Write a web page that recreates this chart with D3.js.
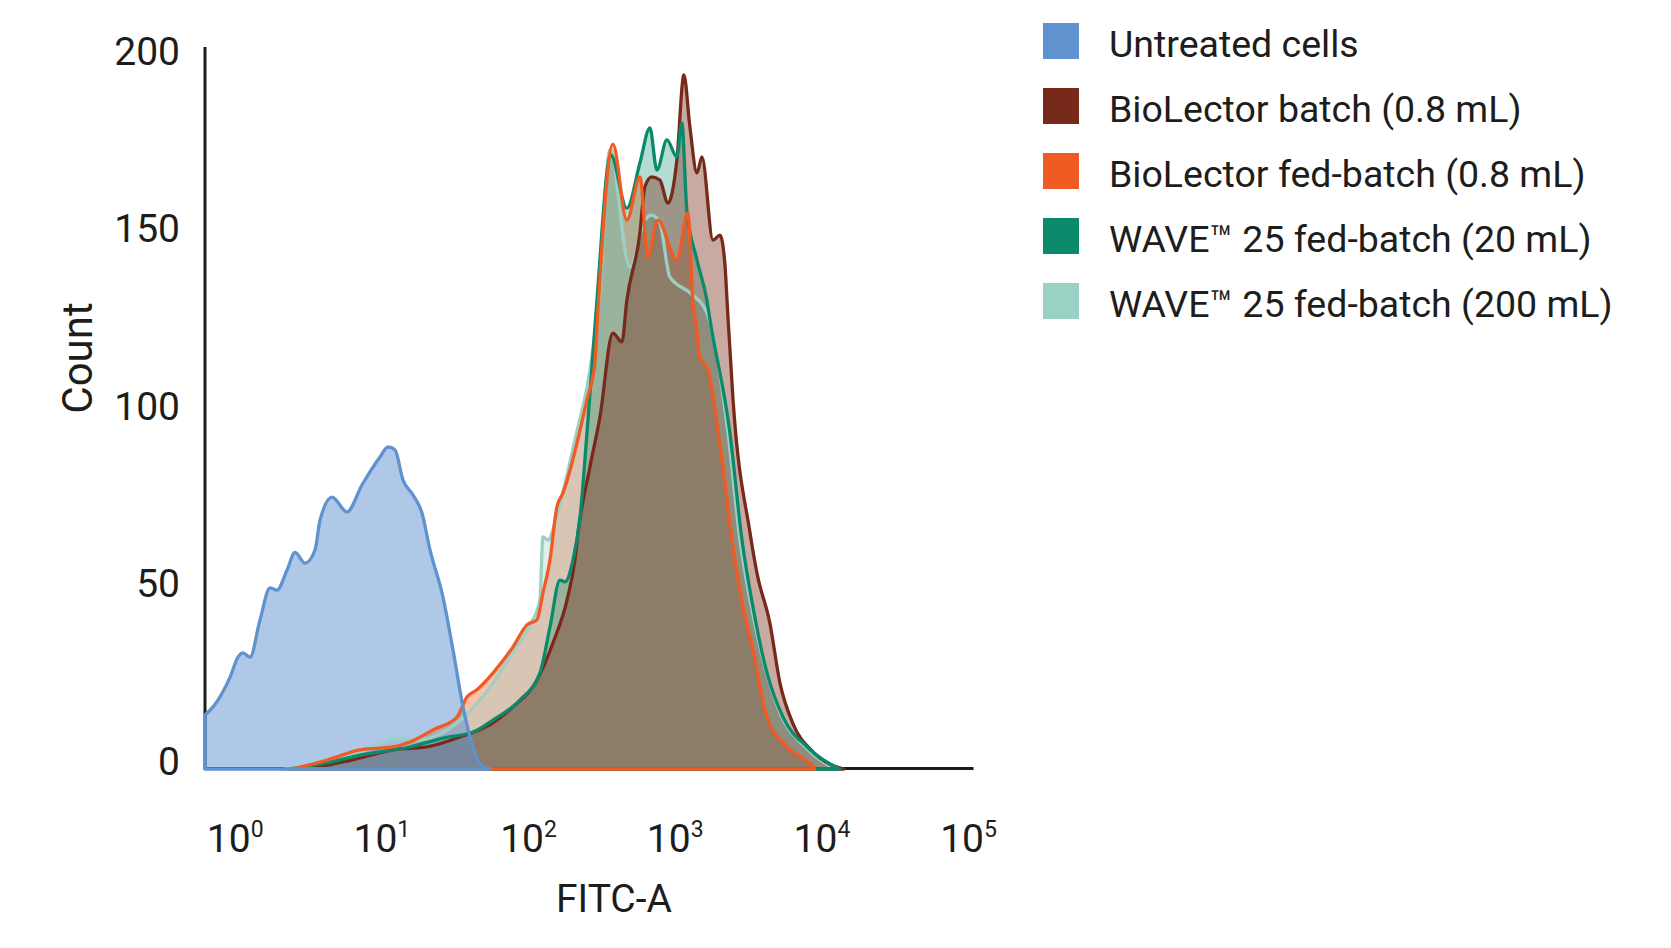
<!DOCTYPE html>
<html>
<head>
<meta charset="utf-8">
<script src="https://cdn.jsdelivr.net/npm/d3@7"></script>
<style>
  body { margin: 0; background: #fff; }
  text { font-family: Roboto, "Liberation Sans", sans-serif; fill: #1d1d1b; }
</style>
</head>
<body>
<div id="chart"></div>
<script>
// each histogram: [log10(FITC-A), count]
const untreated = [
  [-0.206, 15.2], [-0.151, 17.5], [-0.035, 25.9], [0.019, 31.5], [0.053, 32.7], [0.101, 31.5],
  [0.169, 42], [0.237, 51], [0.285, 50.4], [0.353, 56], [0.408, 61], [0.476, 58], [0.544, 61.7],
  [0.578, 70], [0.66, 76.6], [0.762, 72.4], [0.864, 80], [0.987, 87.9], [1.042, 90.7], [1.089, 89.9],
  [1.144, 81.4], [1.212, 77.2], [1.273, 72.1], [1.328, 61.7], [1.416, 48.5], [1.485, 33.5],
  [1.553, 17.5], [1.621, 6.2], [1.689, 0.6], [1.737, 0]
];
const bioBatch = [
  [0.44, 0], [0.626, 1.1], [0.851, 3.1], [1.076, 5.4], [1.307, 6.2], [1.532, 9], [1.757, 13],
  [1.894, 17.5], [2.057, 25], [2.166, 35.5], [2.262, 47.6], [2.316, 58.9], [2.337, 66.5],
  [2.418, 85], [2.486, 99], [2.575, 122.8], [2.636, 120.3], [2.67, 132], [2.759, 151], [2.793, 164],
  [2.84, 166.8], [2.895, 165.9], [2.95, 159.4], [3.011, 171.5], [3.059, 195.5], [3.1, 180.8],
  [3.148, 167.9], [3.182, 172.4], [3.257, 149], [3.305, 150.4], [3.339, 142], [3.353, 132],
  [3.394, 104], [3.51, 66.5], [3.557, 55.2], [3.645, 41.1], [3.714, 24.2], [3.8, 13],
  [3.939, 4.8], [4.12, 0.3], [4.15, 0]
];
const bioFed = [
  [0.394, 0], [0.626, 2.5], [0.851, 5.4], [1.076, 6.2], [1.191, 7.6], [1.348, 11], [1.512, 14.6],
  [1.58, 20.3], [1.648, 22.3], [1.757, 27], [1.894, 34.4], [1.989, 40.6], [2.057, 42], [2.098, 49.6],
  [2.146, 58.9], [2.193, 73.8], [2.234, 77.7], [2.398, 104], [2.452, 114.4], [2.47, 127],
  [2.575, 176], [2.67, 154.6], [2.759, 166.8], [2.813, 144.2], [2.881, 154.6], [3.011, 143.4],
  [3.086, 156.6], [3.12, 132], [3.148, 123.7], [3.168, 115.8], [3.189, 114.6], [3.216, 113.2],
  [3.325, 85], [3.387, 64.5], [3.462, 45.6], [3.53, 33.5], [3.626, 14.6], [3.762, 6.2],
  [3.939, 0.6], [3.95, 0]
];
const wave20 = [
  [0.374, 0], [0.626, 1.7], [0.851, 3.9], [1.191, 6.2], [1.416, 8.7], [1.621, 10.4], [1.757, 13.8],
  [1.941, 19.4], [2.077, 27], [2.146, 40], [2.214, 53.2], [2.248, 52.7], [2.303, 58.9], [2.351, 71],
  [2.398, 94.6], [2.432, 113.2], [2.466, 132], [2.56, 173], [2.67, 158], [2.759, 170.7],
  [2.827, 180.6], [2.875, 168.7], [2.943, 177.2], [3.011, 172.4], [3.045, 182], [3.079, 157.5],
  [3.148, 143.4], [3.216, 132], [3.237, 126.5], [3.373, 94.6], [3.455, 64.5], [3.53, 45.6],
  [3.626, 27], [3.735, 14.6], [3.899, 6.2], [4.12, 0]
];
const wave200 = [
  [0.34, 0], [0.626, 2], [0.851, 4.8], [1.123, 8.7], [1.26, 8.2], [1.464, 11.5], [1.621, 17.2],
  [1.757, 24.2], [1.894, 33], [2.01, 40.6], [2.077, 47.6], [2.098, 65.4], [2.132, 64.5],
  [2.193, 71.5], [2.316, 92.7], [2.418, 112.4], [2.486, 135], [2.554, 174.4], [2.69, 141.4],
  [2.793, 154.6], [2.84, 156], [2.895, 153.8], [2.963, 138.6], [3.1, 134.1], [3.216, 128.5],
  [3.36, 94.6], [3.441, 64.5], [3.51, 47.6], [3.612, 28.7], [3.715, 15.8], [3.885, 6.2], [4.09, 0]
];

const legendLabels = [
  "Untreated cells",
  "BioLector batch (0.8 mL)",
  "BioLector fed-batch (0.8 mL)",
  "WAVE\u2122 25 fed-batch (20 mL)",
  "WAVE\u2122 25 fed-batch (200 mL)"
];
const legendColors = ["#5f92cf", "#782a1a", "#f05a23", "#0b8a6b", "#9bd1c5"];
const yTicks = [0, 50, 100, 150, 200];
const xDecades = [0, 1, 2, 3, 4, 5];

const W = 1671, H = 948;
const svg = d3.select("#chart").append("svg")
  .attr("width", W).attr("height", H);

const x = d3.scaleLog().domain([10 ** -0.206, 10 ** 5.03]).range([205, 973]);
const y = d3.scaleLinear().domain([0, 200]).range([769, 59]);

const area = d3.area()
  .x(d => x(10 ** d[0]))
  .y0(y(0))
  .y1(d => y(d[1]))
  .curve(d3.curveMonotoneX);

const series = {
  untreated: { data: untreated, color: legendColors[0], fill: 0.5 },
  bioBatch: { data: bioBatch, color: legendColors[1], fill: 0.4 },
  bioFed: { data: bioFed, color: legendColors[2], fill: 0.38 },
  wave20: { data: wave20, color: legendColors[3], fill: 0.3 },
  wave200: { data: wave200, color: legendColors[4], fill: 0.34 }
};

// fills first
["bioFed", "wave200", "wave20", "bioBatch", "untreated"].forEach(k => {
  svg.append("path")
    .attr("d", area(series[k].data))
    .attr("fill", series[k].color)
    .attr("fill-opacity", series[k].fill)
    .attr("stroke", "none");
});

// axes
const xAxis = svg.append("g")
  .attr("transform", `translate(0,${y(0) - 1})`)
  .call(d3.axisBottom(x).tickValues([]).tickSizeOuter(0));
xAxis.select(".domain").attr("stroke", "#1d1d1b").attr("stroke-width", 3);

const yAxis = svg.append("g")
  .attr("transform", `translate(${x(10 ** -0.206)},0)`)
  .call(d3.axisLeft(y).tickValues(yTicks).tickSize(0).tickPadding(25));
yAxis.select(".domain").attr("stroke", "#1d1d1b").attr("stroke-width", 3)
  .attr("d", `M0,47V${y(0) + 1}`);
yAxis.selectAll("text")
  .attr("font-size", 39)
  .attr("font-family", "Roboto, sans-serif")
  .attr("fill", "#1d1d1b")
  .attr("dy", null)
  .attr("y", -8)
  .attr("dominant-baseline", "central");

// outlines on top
["wave200", "bioBatch", "wave20", "bioFed", "untreated"].forEach(k => {
  svg.append("path")
    .attr("d", area(series[k].data))
    .attr("fill", "none")
    .attr("stroke", series[k].color)
    .attr("stroke-width", 3.3)
    .attr("stroke-linejoin", "round");
});

// x tick labels 10^n
const xl = svg.append("g");
xDecades.forEach(n => {
  const t = xl.append("text")
    .attr("x", x(10 ** n))
    .attr("y", 852)
    .attr("text-anchor", "middle")
    .attr("font-size", 39);
  t.append("tspan").text("10");
  t.append("tspan").attr("font-size", 23).attr("dy", -15).text(n);
});

svg.append("text")
  .attr("x", 614).attr("y", 912)
  .attr("text-anchor", "middle")
  .attr("font-size", 39)
  .text("FITC-A");

svg.append("text")
  .attr("transform", "translate(92,358) rotate(-90)")
  .attr("text-anchor", "middle")
  .attr("font-size", 42)
  .text("Count");

// legend
const lg = svg.append("g").attr("transform", "translate(1043,23)");
legendLabels.forEach((lab, i) => {
  lg.append("rect")
    .attr("x", 0).attr("y", i * 65)
    .attr("width", 36).attr("height", 36)
    .attr("fill", legendColors[i]);
  lg.append("text")
    .attr("x", 66).attr("y", i * 65 + 34)
    .attr("font-size", 37.5)
    .text(lab);
});
</script>
</body>
</html>
